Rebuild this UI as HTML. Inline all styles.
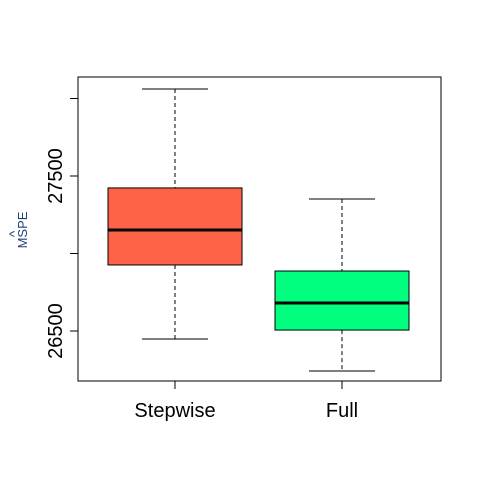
<!DOCTYPE html>
<html><head><meta charset="utf-8"><style>body{margin:0;background:#fff}svg{display:block;font-family:"Liberation Sans",Arial,sans-serif}</style></head>
<body>
<svg width="480" height="480" viewBox="0 0 480 480">
<rect x="78" y="77" width="363" height="304" fill="none" stroke="#000"/>
<g id="yaxis"></g>
<g id="boxes"></g>
<text transform="translate(27,230) rotate(-90)" text-anchor="middle" font-size="13" fill="#1f3f7a">MSPE</text>
<text transform="translate(19,234) rotate(-90)" text-anchor="middle" font-size="14" fill="#1f3f7a">^</text>
<script>
const categories=["Stepwise","Full"];
const whiskLow=[26448,26242];
const q1=[26926,26506];
const medians=[27152,26681];
const q3=[27423,26887];
const whiskHigh=[28061,27352];
const colors=["#ff6347","#00ff7f"];
const yTicks=[26500,27000,27500,28000];
const yTickLabels=["26500","","27500",""];
const ns="http://www.w3.org/2000/svg";
function y(v){return 176+(27500-v)*0.155;}
function xc(i){return 175+i*167;}
function mk(tag,attrs,parent){const e=document.createElementNS(ns,tag);for(const k in attrs)e.setAttribute(k,attrs[k]);parent.appendChild(e);return e;}
const ya=document.getElementById('yaxis');
yTicks.forEach((t,i)=>{
  const l=mk('line',{x1:70,x2:78,y1:y(t),y2:y(t),stroke:'#000'},ya);
  
  
  if(yTickLabels[i]){
    const tx=mk('text',{transform:`translate(62,${y(t)}) rotate(-90)`,'text-anchor':'middle','font-size':'20'},ya);
    tx.textContent=yTickLabels[i];
    
    
  }
});
const bx=document.getElementById('boxes');
categories.forEach((c,i)=>{
  const x=xc(i),hw=67,cw=33;
  const g=mk('g',{},bx);
  
  
  mk('line',{x1:x,x2:x,y1:y(whiskHigh[i]),y2:y(q3[i]),stroke:'#000','stroke-dasharray':'4,3'},g);
  mk('line',{x1:x,x2:x,y1:y(q1[i]),y2:y(whiskLow[i]),stroke:'#000','stroke-dasharray':'4,3'},g);
  mk('line',{x1:x-cw,x2:x+cw,y1:y(whiskHigh[i]),y2:y(whiskHigh[i]),stroke:'#000'},g);
  mk('line',{x1:x-cw,x2:x+cw,y1:y(whiskLow[i]),y2:y(whiskLow[i]),stroke:'#000'},g);
  mk('rect',{x:x-hw,y:y(q3[i]),width:2*hw,height:y(q1[i])-y(q3[i]),fill:colors[i],stroke:'#000'},g);
  mk('line',{x1:x-hw,x2:x+hw,y1:y(medians[i]),y2:y(medians[i]),stroke:'#000','stroke-width':3},g);
  const tk=mk('line',{x1:x,x2:x,y1:381,y2:389,stroke:'#000'},bx);
  
  
  const tl=mk('text',{x:x,y:417,'text-anchor':'middle','font-size':'20'},bx);
  tl.textContent=c;
  
  
});
</script>
</svg>
</body></html>
